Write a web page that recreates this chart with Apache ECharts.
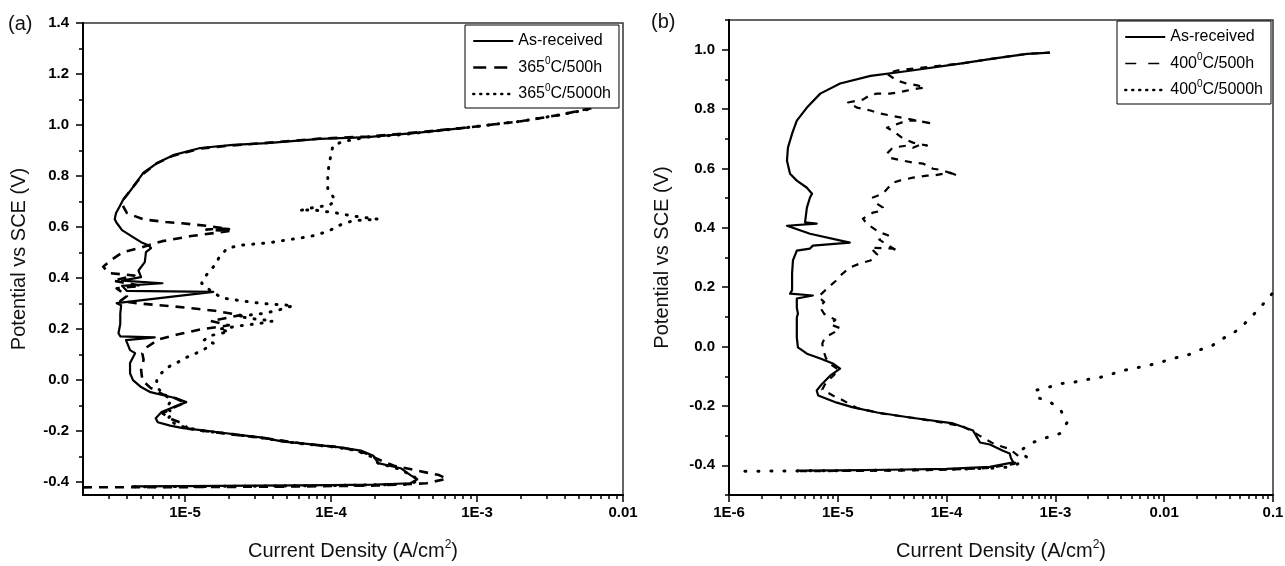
<!DOCTYPE html>
<html><head><meta charset="utf-8">
<script src="https://cdn.jsdelivr.net/npm/echarts@6/dist/echarts.min.js"></script>
<style>html,body{margin:0;padding:0;background:#fff}#c{width:1285px;height:566px}</style>
</head><body><div id="c"></div>
<script>
// ---------- Panel (a) data: [current density (A/cm2), potential (V vs SCE)] ----------
const asReceivedA = [[4.3e-6,-0.416],[1e-5,-0.415],[3e-5,-0.413],[1e-4,-0.411],[2e-4,-0.409],[3.5e-4,-0.404],[3.9e-4,-0.388],[3.5e-4,-0.372],[3e-4,-0.345],[2.1e-4,-0.325],[1.95e-4,-0.296],[1.6e-4,-0.276],[1.15e-4,-0.263],[6.1e-5,-0.247],[4.7e-5,-0.241],[3.4e-5,-0.225],[2.5e-5,-0.216],[1.8e-5,-0.206],[1.33e-5,-0.197],[9.7e-6,-0.188],[7.9e-6,-0.178],[6.5e-6,-0.165],[6.3e-6,-0.149],[6.9e-6,-0.125],[8.3e-6,-0.106],[1.02e-5,-0.086],[8.7e-6,-0.071],[7.1e-6,-0.059],[5.8e-6,-0.047],[5.0e-6,-0.027],[4.4e-6,0],[4.2e-6,0.027],[4.2e-6,0.067],[4.55e-6,0.106],[4.2e-6,0.118],[3.94e-6,0.157],[6.2e-6,0.168],[3.6e-6,0.172],[3.5e-6,0.184],[3.6e-6,0.22],[3.6e-6,0.26],[3.65e-6,0.294],[3.4e-6,0.302],[1.56e-5,0.346],[4e-6,0.35],[3.7e-6,0.37],[7e-6,0.38],[3.7e-6,0.39],[5e-6,0.404],[4.8e-6,0.43],[5.3e-6,0.463],[5.4e-6,0.502],[5.85e-6,0.518],[5.6e-6,0.529],[5.0e-6,0.541],[4.4e-6,0.561],[3.7e-6,0.588],[3.37e-6,0.62],[3.3e-6,0.632],[3.37e-6,0.655],[3.6e-6,0.686],[3.76e-6,0.706],[4.1e-6,0.733],[4.4e-6,0.757],[5.16e-6,0.812],[6.43e-6,0.851],[8.3e-6,0.882],[1.27e-5,0.91],[2.13e-5,0.922],[3.65e-5,0.929],[8.4e-5,0.946],[1.77e-4,0.953],[4e-4,0.97],[8.5e-4,0.99]];
const h500A = [[2.0e-6,-0.42],[1e-5,-0.419],[5e-5,-0.417],[2e-4,-0.413],[4.5e-4,-0.404],[6.2e-4,-0.386],[5.5e-4,-0.372],[4e-4,-0.356],[2.7e-4,-0.335],[2.1e-4,-0.31],[1.7e-4,-0.285],[1.2e-4,-0.264],[6.5e-5,-0.249],[3.5e-5,-0.227],[2.0e-5,-0.211],[1.4e-5,-0.2],[1.05e-5,-0.19],[9.7e-6,-0.17],[8e-6,-0.152],[7e-6,-0.13],[8.5e-6,-0.105],[1.0e-5,-0.088],[8.5e-6,-0.07],[7e-6,-0.055],[5.8e-6,-0.03],[5.1e-6,0],[5.0e-6,0.04],[5.2e-6,0.08],[5.1e-6,0.105],[5.5e-6,0.13],[6.6e-6,0.16],[9e-6,0.18],[1.3e-5,0.2],[2e-5,0.215],[1.5e-5,0.232],[2.4e-5,0.255],[1.6e-5,0.272],[1.2e-5,0.28],[8e-6,0.29],[5e-6,0.3],[3.6e-6,0.31],[4e-6,0.33],[3.4e-6,0.36],[5e-6,0.37],[3.2e-6,0.39],[4.5e-6,0.41],[3e-6,0.42],[2.75e-6,0.445],[3.1e-6,0.47],[3.7e-6,0.5],[5e-6,0.52],[7e-6,0.545],[1.1e-5,0.565],[1.6e-5,0.577],[2.05e-5,0.585],[1.4e-5,0.59],[1.7e-5,0.595],[2.0e-5,0.592],[1.4e-5,0.605],[9.5e-6,0.615],[7.4e-6,0.62],[5.2e-6,0.63],[4.0e-6,0.655],[3.7e-6,0.69],[3.8e-6,0.71],[4.4e-6,0.757],[5.2e-6,0.81],[6.4e-6,0.85],[8.3e-6,0.88],[1.27e-5,0.908],[2.1e-5,0.92],[3.6e-5,0.93],[8.4e-5,0.947],[1.8e-4,0.955],[4e-4,0.972],[8.5e-4,0.99],[2e-3,1.015],[3.7e-3,1.04],[6.2e-3,1.067]];
const h5000A = [[4.5e-6,-0.418],[2e-5,-0.416],[1e-4,-0.413],[3.5e-4,-0.408],[4e-4,-0.39],[3e-4,-0.35],[2.1e-4,-0.325],[1.9e-4,-0.3],[1.5e-4,-0.276],[1.1e-4,-0.263],[6e-5,-0.248],[3.4e-5,-0.227],[2e-5,-0.21],[1.3e-5,-0.198],[1.0e-5,-0.185],[8.5e-6,-0.17],[7.6e-6,-0.15],[8.3e-6,-0.13],[7.4e-6,-0.107],[8.1e-6,-0.08],[7e-6,-0.05],[6.4e-6,-0.027],[6.4e-6,0],[6.7e-6,0.02],[7.4e-6,0.047],[8.7e-6,0.067],[1.03e-5,0.09],[1.33e-5,0.118],[1.56e-5,0.145],[1.35e-5,0.157],[1.5e-5,0.175],[2e-5,0.19],[1.7e-5,0.2],[2.5e-5,0.215],[3.2e-5,0.222],[4e-5,0.232],[3e-5,0.24],[2.3e-5,0.25],[3.5e-5,0.262],[4.5e-5,0.277],[5.5e-5,0.292],[4.5e-5,0.296],[3.5e-5,0.3],[2.5e-5,0.31],[1.8e-5,0.322],[1.5e-5,0.35],[1.3e-5,0.38],[1.4e-5,0.412],[1.6e-5,0.451],[1.7e-5,0.478],[1.95e-5,0.518],[2.5e-5,0.53],[3.2e-5,0.535],[4e-5,0.541],[5e-5,0.55],[6.1e-5,0.557],[8e-5,0.569],[9.9e-5,0.588],[1.15e-4,0.608],[1.41e-4,0.625],[2.1e-4,0.631],[1.35e-4,0.645],[1.1e-4,0.655],[7.5e-5,0.668],[6.1e-5,0.665],[7.8e-5,0.678],[9.8e-5,0.686],[1.07e-4,0.706],[9.5e-5,0.75],[9.5e-5,0.8],[9.7e-5,0.85],[1.0e-4,0.882],[1.03e-4,0.92],[1.2e-4,0.935],[1.8e-4,0.953],[3e-4,0.962],[8.5e-4,0.99],[2e-3,1.015],[3.7e-3,1.04],[6.2e-3,1.065]];

// ---------- Panel (b) data ----------
const asReceivedB = [[4.2e-6,-0.418],[1e-5,-0.417],[3e-5,-0.415],[1e-4,-0.412],[2.5e-4,-0.405],[4.1e-4,-0.39],[3.9e-4,-0.375],[3.8e-4,-0.36],[3.3e-4,-0.351],[2.5e-4,-0.33],[2.03e-4,-0.323],[1.75e-4,-0.283],[1.15e-4,-0.259],[4.6e-5,-0.239],[2.3e-5,-0.222],[1.38e-5,-0.205],[9.8e-6,-0.189],[6.6e-6,-0.165],[6.4e-6,-0.148],[7.2e-6,-0.125],[8.5e-6,-0.098],[1.05e-5,-0.074],[9.0e-6,-0.057],[6.9e-6,-0.04],[5.2e-6,-0.024],[4.3e-6,-0.003],[4.2e-6,0.03],[4.2e-6,0.098],[4.3e-6,0.111],[4.2e-6,0.131],[4.2e-6,0.162],[5.9e-6,0.172],[3.64e-6,0.178],[3.8e-6,0.19],[3.8e-6,0.246],[3.87e-6,0.29],[4.2e-6,0.323],[5.55e-6,0.33],[5.9e-6,0.34],[1.29e-5,0.35],[5.55e-6,0.38],[3.41e-6,0.407],[6.4e-6,0.414],[5.0e-6,0.418],[5.2e-6,0.468],[5.55e-6,0.502],[5.8e-6,0.515],[5.2e-6,0.535],[4.2e-6,0.559],[3.64e-6,0.582],[3.41e-6,0.626],[3.48e-6,0.67],[3.8e-6,0.717],[4.2e-6,0.761],[5.2e-6,0.805],[6.9e-6,0.852],[1.05e-5,0.886],[2e-5,0.912],[4.6e-5,0.929],[1.33e-4,0.953],[2.67e-4,0.97],[5.5e-4,0.986],[8.9e-4,0.99]];
const h500B = [[4.5e-6,-0.42],[3e-5,-0.418],[1e-4,-0.415],[2.5e-4,-0.409],[4.2e-4,-0.395],[4.6e-4,-0.37],[3.8e-4,-0.345],[2.8e-4,-0.33],[2e-4,-0.3],[1.4e-4,-0.268],[6e-5,-0.245],[2.6e-5,-0.226],[1.5e-5,-0.207],[1.1e-5,-0.18],[9e-6,-0.165],[7.2e-6,-0.145],[7.8e-6,-0.12],[9e-6,-0.1],[1.02e-5,-0.078],[8.6e-6,-0.06],[7.8e-6,-0.04],[7.4e-6,-0.015],[7.2e-6,0.01],[7.6e-6,0.03],[9.5e-6,0.05],[1.05e-5,0.062],[8.5e-6,0.075],[9.5e-6,0.09],[7.5e-6,0.11],[6.8e-6,0.135],[7.5e-6,0.15],[6.6e-6,0.168],[7.2e-6,0.18],[8.2e-6,0.2],[9.5e-6,0.22],[1.1e-5,0.245],[1.29e-5,0.266],[1.6e-5,0.28],[2.0e-5,0.29],[2.3e-5,0.31],[2.0e-5,0.333],[3.2e-5,0.33],[3.6e-5,0.32],[2.4e-5,0.36],[2.9e-5,0.375],[2.4e-5,0.385],[1.85e-5,0.414],[1.7e-5,0.431],[2.1e-5,0.451],[2.55e-5,0.458],[2.6e-5,0.468],[2.3e-5,0.481],[2.1e-5,0.502],[2.6e-5,0.515],[3.2e-5,0.552],[3.7e-5,0.559],[4.9e-5,0.569],[6.6e-5,0.576],[7.5e-5,0.576],[9.3e-5,0.582],[1.07e-4,0.586],[1.25e-4,0.576],[9e-5,0.595],[7.5e-5,0.599],[6.1e-5,0.616],[4.9e-5,0.62],[4e-5,0.626],[3e-5,0.636],[2.83e-5,0.65],[3.2e-5,0.67],[4.3e-5,0.677],[4.9e-5,0.67],[6.1e-5,0.684],[6.6e-5,0.677],[4.9e-5,0.687],[4e-5,0.70],[3.2e-5,0.727],[2.83e-5,0.737],[4.3e-5,0.761],[5.35e-5,0.761],[6.6e-5,0.754],[7.5e-5,0.751],[4e-5,0.77],[2.44e-5,0.785],[2e-5,0.795],[1.5e-5,0.805],[1.24e-5,0.822],[1.5e-5,0.828],[1.7e-5,0.832],[2e-5,0.848],[2.3e-5,0.852],[3e-5,0.852],[3.5e-5,0.855],[4.3e-5,0.862],[5.35e-5,0.869],[6.3e-5,0.872],[5.5e-5,0.879],[4.3e-5,0.886],[3.5e-5,0.896],[2.83e-5,0.919],[3.5e-5,0.93],[6e-5,0.94],[1.33e-4,0.953],[2.7e-4,0.97],[5.5e-4,0.986],[8.9e-4,0.99]];
const h5000B = [[1.4e-6,-0.42],[4.2e-6,-0.419],[2e-5,-0.417],[1e-4,-0.414],[2.5e-4,-0.41],[4.1e-4,-0.405],[5.5e-4,-0.374],[4.7e-4,-0.352],[6.2e-4,-0.323],[8.4e-4,-0.306],[1.1e-3,-0.293],[1.28e-3,-0.256],[1.1e-3,-0.209],[8.5e-4,-0.182],[6.8e-4,-0.172],[6.5e-4,-0.148],[8.5e-4,-0.138],[1.1e-3,-0.125],[1.45e-3,-0.121],[1.95e-3,-0.111],[2.57e-3,-0.104],[4.2e-3,-0.081],[5.6e-3,-0.071],[7.1e-3,-0.064],[9.1e-3,-0.054],[1.2e-2,-0.04],[1.62e-2,-0.03],[2.05e-2,-0.013],[2.75e-2,0.003],[3.47e-2,0.027],[4.67e-2,0.054],[5.9e-2,0.088],[7.6e-2,0.131],[9.8e-2,0.178]];

// ---------- series names ----------
const namesA = ['As-received', '365°C/500h', '365°C/5000h'];
const namesB = ['As-received', '400°C/500h', '400°C/5000h'];

// ---------- ticks ----------
const xTicksA = [1e-5, 1e-4, 1e-3, 1e-2];
const xTickLabelsA = ['1E-5', '1E-4', '1E-3', '0.01'];
const xTicksB = [1e-6, 1e-5, 1e-4, 1e-3, 1e-2, 1e-1];
const xTickLabelsB = ['1E-6', '1E-5', '1E-4', '1E-3', '0.01', '0.1'];
const yTicksA = [-0.4, -0.2, 0, 0.2, 0.4, 0.6, 0.8, 1.0, 1.2, 1.4];
const yMinorA = [-0.3, -0.1, 0.1, 0.3, 0.5, 0.7, 0.9, 1.1, 1.3];
const yTicksB = [-0.4, -0.2, 0, 0.2, 0.4, 0.6, 0.8, 1.0];
const yMinorB = [-0.5, -0.3, -0.1, 0.1, 0.3, 0.5, 0.7, 0.9, 1.1];
const xRangeA = [2e-6, 1e-2], yRangeA = [-0.45, 1.4];
const xRangeB = [1e-6, 1e-1], yRangeB = [-0.5, 1.1];

const FONT = '"Liberation Sans", Arial, Helvetica, sans-serif';

function minorLogTicks(range) {
  const out = [];
  const d0 = Math.floor(Math.log10(range[0]) + 1e-9), d1 = Math.ceil(Math.log10(range[1]) - 1e-9);
  for (let d = d0; d < d1; d++) {
    for (let m = 2; m <= 9; m++) {
      const v = m * Math.pow(10, d);
      if (v > range[0] * 1.0001 && v < range[1] * 0.9999) out.push(v);
    }
  }
  return out;
}
function labelFor(v, ticks, labels) {
  for (let i = 0; i < ticks.length; i++) {
    if (Math.abs(Math.log10(v) - Math.log10(ticks[i])) < 1e-6) return labels[i];
  }
  return '';
}
const axisTitleStyle = {
  fontSize: 20, color: '#111', fontFamily: FONT, lineHeight: 24,
  rich: { sup: { fontSize: 12, verticalAlign: 'top', fontFamily: FONT, color: '#111', lineHeight: 24 } }
};
const tickLabelStyle = { fontSize: 15, fontWeight: 'bold', color: '#000', fontFamily: FONT };

function xMain(g, range, ticks, labels) {
  return {
    type: 'log', logBase: 10, gridIndex: g, min: range[0], max: range[1], position: 'bottom',
    axisLine: { show: true, onZero: false, lineStyle: { color: '#000', width: 2 } },
    axisTick: { show: true, inside: false, length: 7, customValues: ticks, lineStyle: { color: '#000', width: 1.5 } },
    axisLabel: Object.assign({ show: true, customValues: ticks, margin: 10,
      formatter: v => labelFor(v, ticks, labels) }, tickLabelStyle),
    splitLine: { show: false }, minorTick: { show: false },
    name: 'Current Density (A/cm{sup|2})', nameLocation: 'middle', nameGap: 44,
    nameMoveOverlap: false, nameTextStyle: axisTitleStyle
  };
}
function xMinor(g, range) {
  return {
    type: 'log', logBase: 10, gridIndex: g, min: range[0], max: range[1], position: 'bottom',
    axisLine: { show: false, onZero: false },
    axisTick: { show: true, inside: false, length: 4, customValues: minorLogTicks(range), lineStyle: { color: '#000', width: 1.5 } },
    axisLabel: { show: false }, splitLine: { show: false }
  };
}
function yMain(g, range, ticks, gap) {
  return {
    type: 'value', gridIndex: g, min: range[0], max: range[1], position: 'left',
    axisLine: { show: true, onZero: false, lineStyle: { color: '#000', width: 2 } },
    axisTick: { show: true, inside: false, length: 7, customValues: ticks, lineStyle: { color: '#000', width: 1.5 } },
    axisLabel: Object.assign({ show: true, customValues: ticks, margin: 14,
      formatter: v => v.toFixed(1) }, tickLabelStyle),
    splitLine: { show: false },
    name: 'Potential vs SCE (V)', nameLocation: 'middle', nameGap: gap, nameRotate: 90,
    nameMoveOverlap: false, nameTextStyle: axisTitleStyle
  };
}
function yMinor(g, range, ticks) {
  return {
    type: 'value', gridIndex: g, min: range[0], max: range[1], position: 'left', offset: 0,
    axisLine: { show: false, onZero: false },
    axisTick: { show: true, inside: false, length: 4, customValues: ticks, lineStyle: { color: '#000', width: 1.5 } },
    axisLabel: { show: false }, splitLine: { show: false }
  };
}
function ser(name, data, xi, yi, dash, width, cap, z) {
  return {
    name, type: 'line', data, xAxisIndex: xi, yAxisIndex: yi,
    symbol: 'none', showSymbol: false, smooth: false, animation: false, silent: true,
    clip: true, z: z,
    itemStyle: { color: '#000', opacity: 0 },
    lineStyle: { color: '#000', width: width, type: dash, cap: cap, join: 'round' },
    emphasis: { disabled: true }
  };
}
function legendFmt(n) { return n.replace('°', '{sup|0}'); }
const hiddenMark = { color: 'rgba(0,0,0,0)', borderWidth: 0, opacity: 0 };
function legendCfg(left, top, names, dashes) {
  return {
    left: left, top: top, orient: 'vertical', selectedMode: false,
    data: names.map((n, i) => ({ name: n, lineStyle: dashes[i], itemStyle: hiddenMark })),
    itemStyle: hiddenMark,
    itemWidth: 40, itemHeight: 14, itemGap: 4.5, itemTextGap: 8,
    padding: [5, 8, 3, 7], borderColor: '#000', borderWidth: 1, backgroundColor: '#fff',
    formatter: legendFmt,
    textStyle: { fontSize: 16, color: '#000', fontFamily: FONT, lineHeight: 22,
      rich: { sup: { fontSize: 10, verticalAlign: 'top', lineHeight: 22, fontFamily: FONT, color: '#000' } } }
  };
}

const chart = echarts.init(document.getElementById('c'), null, { renderer: 'canvas' });
chart.setOption({
  backgroundColor: '#fff',
  animation: false,
  grid: [
    { left: 83, top: 23, width: 540, height: 472, show: true, borderColor: '#333', borderWidth: 1.5,
      backgroundColor: 'transparent', containLabel: false, outerBoundsMode: 'none' },
    { left: 729, top: 20, width: 544, height: 475, show: true, borderColor: '#333', borderWidth: 1.5,
      backgroundColor: 'transparent', containLabel: false, outerBoundsMode: 'none' }
  ],
  xAxis: [ xMain(0, xRangeA, xTicksA, xTickLabelsA), xMinor(0, xRangeA),
           xMain(1, xRangeB, xTicksB, xTickLabelsB), xMinor(1, xRangeB) ],
  yAxis: [ yMain(0, yRangeA, yTicksA, 52), yMinor(0, yRangeA, yMinorA),
           yMain(1, yRangeB, yTicksB, 55), yMinor(1, yRangeB, yMinorB) ],
  legend: [
    legendCfg(465, 25, namesA, [{ type: 'solid', width: 2.2 }, { type: [13, 8], width: 2.5 }, { type: [1, 6], width: 2.5, cap: 'round' }]),
    legendCfg(1117, 21, namesB, [{ type: 'solid', width: 2.2 }, { type: [11, 12], width: 1.5 }, { type: [1, 6], width: 2.5, cap: 'round' }])
  ],
  graphic: [
    { type: 'text', left: 8, top: 14, style: { text: '(a)', font: '20px ' + FONT, fill: '#111' } },
    { type: 'text', left: 651, top: 12, style: { text: '(b)', font: '20px ' + FONT, fill: '#111' } }
  ],
  series: [
    ser(namesA[1], h500A, 0, 0, [9, 7], 2.6, 'butt', 3),
    ser(namesA[2], h5000A, 0, 0, [1, 9], 3, 'round', 3),
    ser(namesA[0], asReceivedA, 0, 0, 'solid', 2.2, 'butt', 4),
    ser(namesB[1], h500B, 2, 2, [7, 7], 2.2, 'butt', 3),
    ser(namesB[2], h5000B, 2, 2, [1, 12], 3, 'round', 3),
    ser(namesB[0], asReceivedB, 2, 2, 'solid', 2.2, 'butt', 4)
  ]
});
</script>
</body></html>
